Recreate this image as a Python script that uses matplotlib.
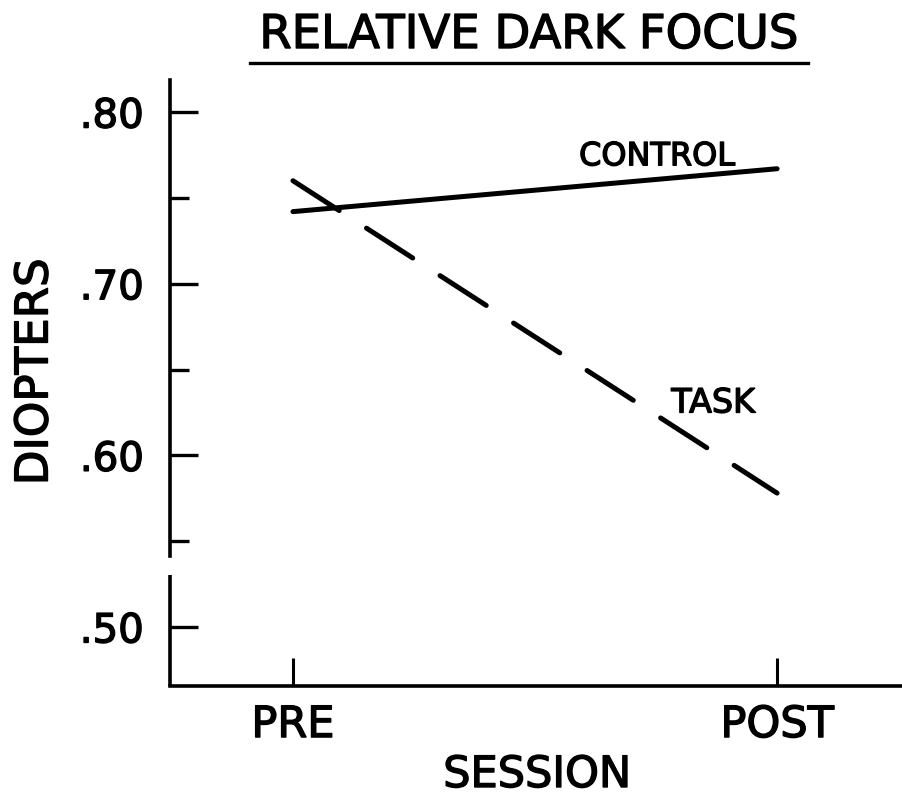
import matplotlib
matplotlib.use("Agg")
import matplotlib.pyplot as plt
from matplotlib.lines import Line2D
import matplotlib.patheffects as pe

# ---- data ----
sessions = ["PRE", "POST"]
session_x = [0, 1]
control = [0.742, 0.767]
task = [0.760, 0.578]
major_ticks = [0.50, 0.60, 0.70, 0.80]
major_labels = [".50", ".60", ".70", ".80"]
minor_ticks = [0.55, 0.65, 0.75]

plt.rcParams['font.family'] = ['DejaVu Sans']
thick = [pe.withStroke(linewidth=1.0, foreground='black')]

fig = plt.figure(figsize=(9.02, 7.99), dpi=100)
ax = fig.add_axes([170/902, 113/799, (902-170)/902, (686-80)/799])

ylo, yhi = 0.4656, 0.8187
ax.set_ylim(ylo, yhi)
ax.set_xlim(-0.254, 1.258)

lw = 3.6
ax.plot(session_x, control, color='black', lw=lw, solid_capstyle='round')
ax.plot(session_x, task, color='black', lw=lw, dash_capstyle='round',
        dashes=(11, 6.5))

# spines
for s in ['top', 'right']:
    ax.spines[s].set_visible(False)
ax.spines['left'].set_linewidth(2.6)
ax.spines['bottom'].set_linewidth(2.6)
ax.spines['left'].set_bounds(0.5415, yhi)
# lower segment of broken axis
ax.plot([0, 0], [ylo, 0.5305], transform=ax.get_yaxis_transform(),
        color='black', lw=2.6, clip_on=False, solid_capstyle='butt')

ax.set_yticks(major_ticks)
ax.set_yticklabels(major_labels)
ax.set_yticks(minor_ticks, minor=True)
ax.tick_params(axis='y', which='major', direction='in', length=20, width=2.4,
               labelsize=29, pad=19)
ax.tick_params(axis='y', which='minor', direction='in', length=14, width=2.4)

ax.set_xticks(session_x)
ax.set_xticklabels(sessions)
ax.tick_params(axis='x', direction='in', length=20, width=2.2,
               labelsize=31, pad=13)
for t in ax.get_xticklabels() + ax.get_yticklabels():
    t.set_path_effects(thick)

fig.text(537/902, 1-787/799, "SESSION", fontsize=31, ha='center',
         va='baseline', path_effects=thick)
fig.text(35/902, 1-372/799, "DIOPTERS", fontsize=32.5, ha='center',
         va='center', rotation=90, path_effects=thick)

ax.text(0.752, 0.769, "CONTROL", fontsize=23, ha='center', va='baseline',
        path_effects=thick)
ax.text(0.868, 0.625, "TASK", fontsize=24, ha='center', va='baseline',
        path_effects=thick)

fig.text(529/902, 1-48/799, "RELATIVE DARK FOCUS", fontsize=33.5,
         ha='center', va='baseline', path_effects=thick)
fig.add_artist(Line2D([250/902, 808/902], [1-63/799, 1-63/799],
                      color='black', lw=2.4, transform=fig.transFigure))

fig.savefig("out.png", dpi=100)
